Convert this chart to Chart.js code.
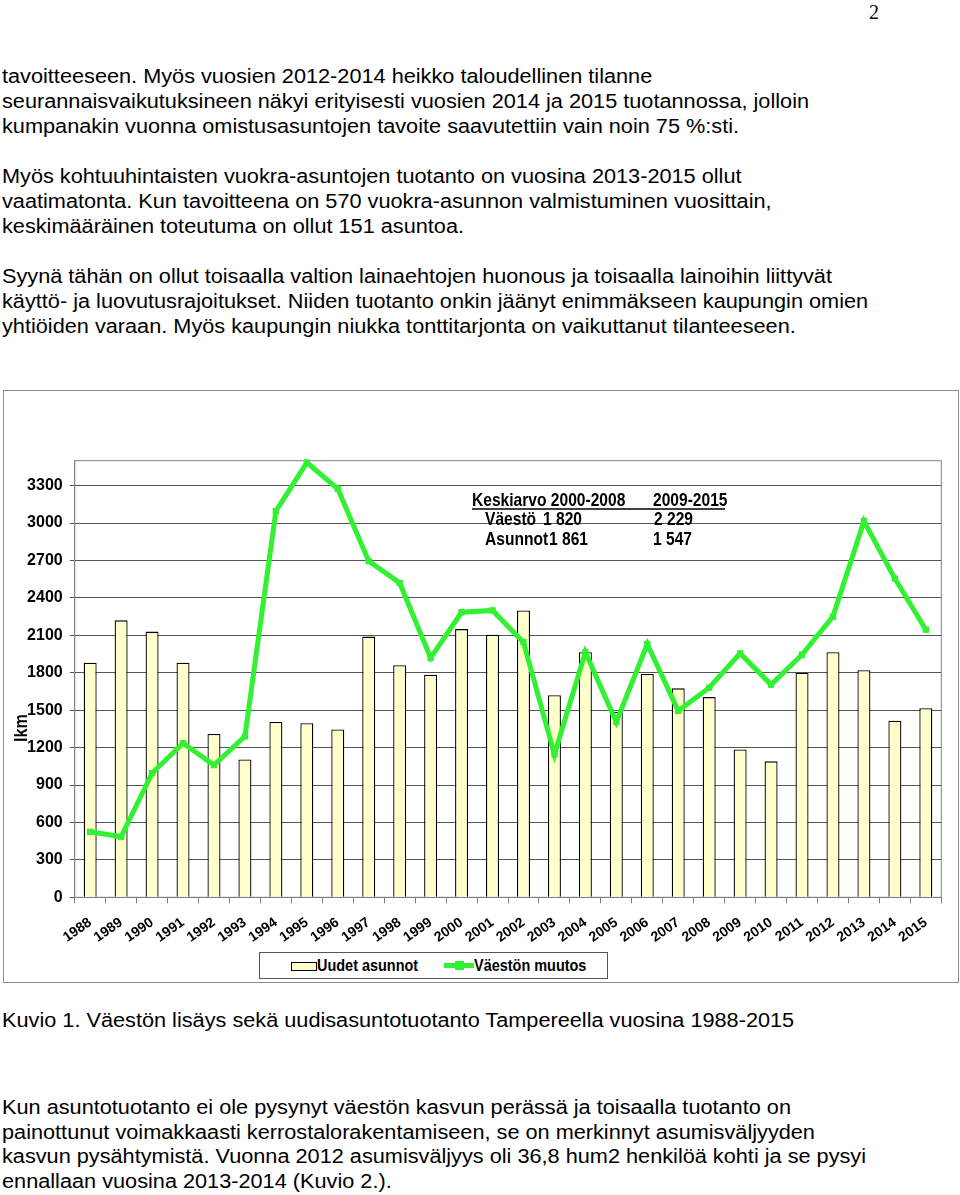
<!DOCTYPE html>
<html lang="fi">
<head>
<meta charset="utf-8">
<script src="https://cdn.jsdelivr.net/npm/chart.js@4.4.1/dist/chart.umd.min.js"></script>
<style>
  html, body { margin: 0; padding: 0; background: #fff; }
  body { width: 960px; height: 1195px; position: relative; overflow: hidden;
         font-family: "Liberation Sans", Arial, Helvetica, sans-serif; color: #000; }
  .txt { position: absolute; left: 2px; font-size: 20px; line-height: 25px; white-space: nowrap;
         transform: scaleX(1.085); transform-origin: 0 0; }
  .txt p { margin: 0 0 25px 0; }
  #pagenum { position: absolute; left: 869px; top: 0px; font-family: "Liberation Serif", "Times New Roman", serif; font-size: 20px; line-height: 25px; }
  #chartbox { position: absolute; left: 3px; top: 390px; width: 956px; height: 593px;
              border: 1px solid #8c8c8c; box-sizing: border-box; }
  #chartbox canvas { display: block; }
  #legend { position: absolute; left: 259px; top: 952px; width: 349px; height: 27px;
            border: 1px solid #555; box-sizing: border-box; background: #fff;
            font-weight: bold; font-size: 17px; }
  #legend span { position: absolute; top: 3px; line-height: 19px; white-space: nowrap;
                 transform: scaleX(0.85); transform-origin: 0 0; }
  .sw-bar { position: absolute; left: 31px; top: 9px; width: 24px; height: 7px; background: #ffffcc; border: 1px solid #000; }
  .sw-line { position: absolute; left: 184px; top: 10px; width: 30px; height: 5px; background: #32f032; }
  .sw-mark { position: absolute; left: 195px; top: 8px; width: 9px; height: 9px; background: #32f032; }
</style>
</head>
<body>
<div id="pagenum">2</div>

<div class="txt" style="top:64px">
  <p>tavoitteeseen. Myös vuosien 2012-2014 heikko taloudellinen tilanne<br>
  seurannaisvaikutuksineen näkyi erityisesti vuosien 2014 ja 2015 tuotannossa, jolloin<br>
  kumpanakin vuonna omistusasuntojen tavoite saavutettiin vain noin 75 %:sti.</p>
  <p>Myös kohtuuhintaisten vuokra-asuntojen tuotanto on vuosina 2013-2015 ollut<br>
  vaatimatonta. Kun tavoitteena on 570 vuokra-asunnon valmistuminen vuosittain,<br>
  keskimääräinen toteutuma on ollut 151 asuntoa.</p>
  <p>Syynä tähän on ollut toisaalla valtion lainaehtojen huonous ja toisaalla lainoihin liittyvät<br>
  käyttö- ja luovutusrajoitukset. Niiden tuotanto onkin jäänyt enimmäkseen kaupungin omien<br>
  yhtiöiden varaan. Myös kaupungin niukka tonttitarjonta on vaikuttanut tilanteeseen.</p>
</div>

<div id="chartbox"><canvas id="chart"></canvas></div>

<div id="legend">
  <div class="sw-bar"></div><span style="left:57px">Uudet asunnot</span>
  <div class="sw-line"></div><div class="sw-mark"></div><span style="left:214px">Väestön muutos</span>
</div>

<div class="txt" style="top:1008px">Kuvio 1. Väestön lisäys sekä uudisasuntotuotanto Tampereella vuosina 1988-2015</div>

<div class="txt" style="top:1095px; line-height:24.5px">
  Kun asuntotuotanto ei ole pysynyt väestön kasvun perässä ja toisaalla tuotanto on<br>
  painottunut voimakkaasti kerrostalorakentamiseen, se on merkinnyt asumisväljyyden<br>
  kasvun pysähtymistä. Vuonna 2012 asumisväljyys oli 36,8 hum2 henkilöä kohti ja se pysyi<br>
  ennallaan vuosina 2013-2014 (Kuvio 2.).
</div>

<script>
// vuodet ja sarjat (luettu kuvasta)
const years = ['1988', '1989', '1990', '1991', '1992', '1993', '1994', '1995', '1996', '1997',
    '1998', '1999', '2000', '2001', '2002', '2003', '2004', '2005', '2006', '2007',
    '2008', '2009', '2010', '2011', '2012', '2013', '2014', '2015'];

const uudetAsunnot = [1880, 2220, 2130, 1880, 1310, 1105, 1405, 1395, 1345, 2090,
    1860, 1785, 2150, 2105, 2300, 1620, 1965, 1485, 1790, 1675,
    1605, 1185, 1090, 1800, 1965, 1820, 1415, 1515];

const vaestonMuutos = [525, 485, 995, 1235, 1060, 1290, 3095, 3485, 3275, 2695,
    2520, 1920, 2285, 2300, 2045, 1145, 1965, 1405, 2030, 1495,
    1680, 1955, 1705, 1945, 2250, 3015, 2555, 2145];

const yTicks = [0, 300, 600, 900, 1200, 1500, 1800, 2100, 2400, 2700, 3000, 3300];

// keskiarvotaulukko
const keskiarvoOtsikko = ['Keskiarvo 2000-2008', '2009-2015'];
const keskiarvoVaesto = ['Väestö', '1 820', '2 229'];
const keskiarvoAsunnot = ['Asunnot', '1 861', '1 547'];

const FONT = '"Liberation Sans", Arial, sans-serif';

// kapeaa tekstiä (alkuperäisessä Arial Narrow)
function narrowText(ctx, text, x, y) {
    ctx.save();
    ctx.translate(x, y);
    ctx.scale(0.82, 1);
    ctx.fillText(text, 0, 0);
    ctx.restore();
}

// piirtää kehyksen, taulukon ja y-akselin otsikon
const extrasPlugin = {
    id: 'extras',
    beforeDatasetsDraw(chart) {
        const { ctx, chartArea } = chart;
        ctx.save();
        ctx.font = 'bold 19px ' + FONT;
        ctx.fillStyle = '#000';
        ctx.textBaseline = 'alphabetic';
        ctx.textAlign = 'left';

        narrowText(ctx, keskiarvoOtsikko[0], 468, 115);
        narrowText(ctx, keskiarvoOtsikko[1], 649, 115);
        ctx.lineWidth = 1.5;
        ctx.strokeStyle = '#000';
        ctx.beginPath();
        ctx.moveTo(468, 118);
        ctx.lineTo(721, 118);
        ctx.stroke();

        narrowText(ctx, keskiarvoVaesto[0], 481, 134);
        narrowText(ctx, keskiarvoVaesto[1], 539, 134);
        narrowText(ctx, keskiarvoVaesto[2], 650, 134);
        narrowText(ctx, keskiarvoAsunnot[0], 481, 154);
        narrowText(ctx, keskiarvoAsunnot[1], 545, 154);
        narrowText(ctx, keskiarvoAsunnot[2], 649, 154);

        // y-akselin otsikko
        ctx.save();
        ctx.translate(18, 337);
        ctx.rotate(-Math.PI / 2);
        ctx.scale(0.85, 1);
        ctx.textAlign = 'center';
        ctx.textBaseline = 'middle';
        ctx.font = 'bold 19px ' + FONT;
        ctx.fillText('lkm', 0, 0);
        ctx.restore();

        // kuvaajan kehys
        ctx.strokeStyle = '#808080';
        ctx.lineWidth = 1;
        ctx.strokeRect(chartArea.left, chartArea.top, chartArea.width, chartArea.height);
        ctx.restore();
    },
};

const ctx = document.getElementById('chart').getContext('2d');

new Chart(ctx, {
    type: 'bar',
    data: {
        labels: years,
        datasets: [
            {
                type: 'line',
                label: 'Väestön muutos',
                data: vaestonMuutos,
                borderColor: '#32f032',
                backgroundColor: '#32f032',
                borderWidth: 5,
                pointStyle: 'rect',
                pointRadius: 4.5,
                pointBorderWidth: 0,
                pointBackgroundColor: '#32f032',
                tension: 0,
                clip: false,
                order: 1,
            },
            {
                type: 'bar',
                label: 'Uudet asunnot',
                data: uudetAsunnot,
                backgroundColor: '#ffffcc',
                borderColor: '#000',
                borderWidth: 1.3,
                barPercentage: 0.42,
                categoryPercentage: 1,
                order: 2,
            },
        ],
    },
    options: {
        responsive: true,
        maintainAspectRatio: false,
        animation: false,
        events: [],
        layout: {
            padding: { left: 0, top: 69.7, right: 16.7, bottom: 40 },
        },
        plugins: {
            legend: { display: false },
            tooltip: { enabled: false },
        },
        scales: {
            x: {
                afterFit: (scale) => { scale.height = 591 - 506.3 - 40; },
                border: { color: '#808080', width: 1 },
                grid: {
                    offset: true,
                    drawOnChartArea: false,
                    drawTicks: true,
                    tickLength: 6,
                    tickColor: '#808080',
                },
                ticks: {
                    autoSkip: false,
                    minRotation: 35,
                    maxRotation: 35,
                    padding: 11,
                    color: '#000',
                    font: { family: FONT, size: 14, weight: 'bold' },
                },
            },
            y: {
                min: 0,
                max: 3500,
                afterFit: (scale) => { scale.width = 70.7; },
                afterBuildTicks: (scale) => { scale.ticks = yTicks.map((v) => ({ value: v })); },
                border: { color: '#808080', width: 1 },
                grid: {
                    color: '#555',
                    lineWidth: 1,
                    borderDash: [2, 2],
                    drawTicks: true,
                    tickLength: 5,
                    tickColor: '#555',
                    tickBorderDash: [],
                },
                ticks: {
                    padding: 7,
                    color: '#000',
                    font: { family: FONT, size: 16, weight: 'bold' },
                    callback: (value) => String(value),
                },
            },
        },
    },
    plugins: [extrasPlugin],
});
</script>
</body>
</html>
